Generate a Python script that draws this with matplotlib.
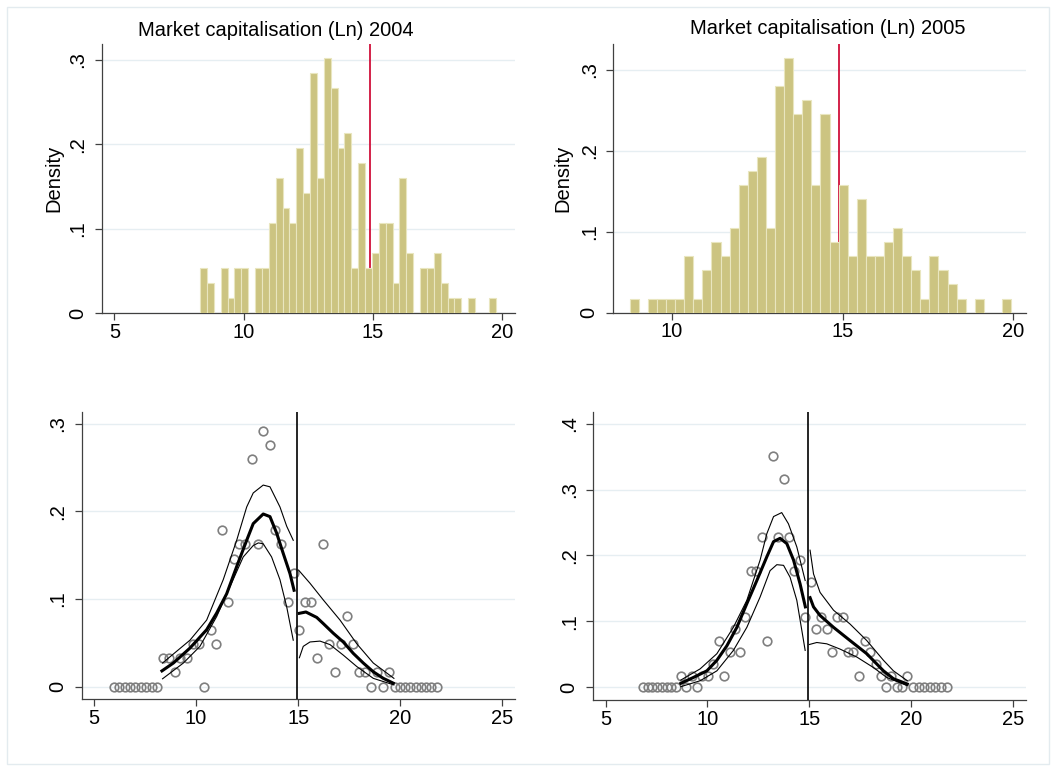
import numpy as np
import matplotlib
matplotlib.use("Agg")
import matplotlib.pyplot as plt
from matplotlib.patches import Rectangle

plt.rcParams['font.family'] = ['Liberation Sans', 'DejaVu Sans']

# ---------------- data ----------------
# Top-left histogram (2004): bin grid and counts per bin
hist04_start = 8.317
hist04_width = 0.266
hist04_counts = [3, 2, 0, 3, 1, 3, 3, 0, 3, 3, 6, 9, 7, 6, 11, 8, 16, 9, 17, 15,
                 11, 12, 3, 10, 3, 4, 6, 6, 2, 9, 4, 0, 3, 3, 4, 2, 1, 1, 0, 1,
                 0, 0, 1]
# Top-right histogram (2005)
hist05_start = 8.771
hist05_width = 0.2658
hist05_counts = [1, 0, 1, 1, 1, 1, 4, 1, 3, 5, 4, 6, 9, 10, 11, 6, 16, 18, 14, 15,
                 9, 14, 5, 9, 4, 8, 4, 4, 5, 6, 4, 3, 1, 4, 3, 2, 1, 0, 1, 0,
                 0, 1]
cutoff_top = 14.9
cutoff_bottom = 14.93

# Bottom-left (2004) McCrary density test: bin circles
bl_x = [5.98, 6.24, 6.51, 6.77, 7.03, 7.30, 7.56, 7.82, 8.09,
        8.36, 8.66, 8.95, 9.21, 9.54, 9.83, 10.13, 10.39, 10.71, 10.98,
        11.27, 11.56, 11.86, 12.12, 12.41, 12.74, 13.03, 13.29, 13.62,
        13.88, 14.18, 14.50, 14.80,
        15.06, 15.35, 15.65, 15.94, 16.23, 16.53, 16.82, 17.08, 17.38,
        17.70, 18.00, 18.29, 18.57, 18.84, 19.14, 19.43,
        19.72, 19.98, 20.24, 20.49, 20.75, 21.01, 21.27, 21.52, 21.78]
bl_y = [0, 0, 0, 0, 0, 0, 0, 0, 0,
        0.0323, 0.0323, 0.0162, 0.0323, 0.0323, 0.0485, 0.0485, 0, 0.0646, 0.0485,
        0.1785, 0.0970, 0.1458, 0.1624, 0.1624, 0.2593, 0.1624, 0.2920, 0.2760,
        0.1785, 0.1624, 0.0970, 0.1300,
        0.0646, 0.0970, 0.0970, 0.0323, 0.1624, 0.0485, 0.0162, 0.0485, 0.0808,
        0.0485, 0.0162, 0.0162, 0, 0.0162, 0, 0.0162,
        0, 0, 0, 0, 0, 0, 0, 0, 0]
# fitted density (left / right of cutoff) and confidence bands
bl_fit_l_x = [8.33, 8.89, 9.70, 10.52, 11.01, 11.50, 11.99, 12.48, 12.80, 13.29,
              13.62, 13.95, 14.27, 14.60, 14.80]
bl_fit_l_y = [0.018, 0.027, 0.044, 0.065, 0.084, 0.106, 0.137, 0.167, 0.186, 0.197,
              0.194, 0.175, 0.152, 0.129, 0.110]
bl_hi_l_x = [8.36, 9.70, 10.52, 11.33, 11.99, 12.48, 12.80, 13.29, 13.62, 14.11, 14.44, 14.76]
bl_hi_l_y = [0.027, 0.053, 0.076, 0.122, 0.167, 0.205, 0.221, 0.230, 0.228, 0.205, 0.183, 0.167]
bl_lo_l_x = [8.36, 9.38, 10.19, 11.01, 11.66, 12.31, 12.80, 13.05, 13.29, 13.70, 14.11, 14.44, 14.76]
bl_lo_l_y = [0.009, 0.027, 0.046, 0.080, 0.114, 0.148, 0.161, 0.164, 0.163, 0.148, 0.122, 0.091, 0.053]
bl_fit_r_x = [15.06, 15.38, 15.91, 16.23, 16.72, 17.21, 17.70, 18.19, 18.68, 19.17, 19.66]
bl_fit_r_y = [0.0837, 0.0852, 0.079, 0.072, 0.061, 0.051, 0.038, 0.027, 0.017, 0.0095, 0.004]
bl_hi_r_x = [15.02, 15.58, 16.23, 17.05, 17.87, 18.68, 19.69]
bl_hi_r_y = [0.133, 0.118, 0.099, 0.076, 0.049, 0.027, 0.0095]
bl_lo_r_x = [15.06, 15.25, 15.58, 16.07, 16.56, 17.21, 17.87, 18.68, 19.69]
bl_lo_r_y = [0.033, 0.046, 0.051, 0.052, 0.048, 0.036, 0.023, 0.0095, 0.002]

# Bottom-right (2005)
br_x = [6.83, 7.06, 7.30, 7.53, 7.76, 7.99, 8.23, 8.46,
        8.69, 8.95, 9.22, 9.48, 9.74, 10.03, 10.29, 10.56, 10.82, 11.11,
        11.37, 11.60, 11.86, 12.12, 12.39, 12.65, 12.94, 13.20, 13.46,
        13.73, 13.99, 14.25, 14.54, 14.80,
        15.07, 15.33, 15.59, 15.85, 16.11, 16.37, 16.67, 16.90, 17.16,
        17.45, 17.71, 17.97, 18.24, 18.50, 18.76, 19.02, 19.28, 19.54, 19.80,
        20.07, 20.35, 20.62, 20.90, 21.18, 21.45, 21.73]
br_y = [0, 0, 0, 0, 0, 0, 0, 0,
        0.0177, 0, 0.0177, 0, 0.0177, 0.0177, 0.0355, 0.0710, 0.0177, 0.0532,
        0.0885, 0.0532, 0.1062, 0.1760, 0.1760, 0.2280, 0.0710, 0.3510, 0.2280,
        0.3160, 0.2280, 0.1760, 0.1930, 0.1062,
        0.1590, 0.0885, 0.1062, 0.0885, 0.0532, 0.1062, 0.1062, 0.0532, 0.0532,
        0.0177, 0.0710, 0.0532, 0.0355, 0.0177, 0, 0.0177, 0, 0, 0.0177,
        0, 0, 0, 0, 0, 0, 0]
br_fit_l_x = [8.69, 9.31, 9.97, 10.46, 10.95, 11.44, 11.93, 12.42, 12.91, 13.24,
              13.56, 13.89, 14.22, 14.54, 14.80]
br_fit_l_y = [0.006, 0.015, 0.025, 0.041, 0.063, 0.091, 0.127, 0.162, 0.198, 0.221,
              0.226, 0.218, 0.193, 0.157, 0.122]
br_hi_l_x = [8.69, 9.64, 10.46, 11.27, 11.93, 12.58, 12.91, 13.24, 13.64, 13.97, 14.38, 14.79]
br_hi_l_y = [0.011, 0.028, 0.051, 0.091, 0.132, 0.193, 0.233, 0.259, 0.265, 0.248, 0.213, 0.162]
br_lo_l_x = [8.69, 9.64, 10.46, 11.27, 11.93, 12.58, 13.07, 13.40, 13.73, 14.05, 14.38, 14.79]
br_lo_l_y = [0.001, 0.010, 0.025, 0.056, 0.091, 0.137, 0.177, 0.186, 0.185, 0.167, 0.132, 0.056]
br_fit_r_x = [15.03, 15.20, 15.52, 16.18, 16.99, 17.81, 18.63, 19.12, 19.80]
br_fit_r_y = [0.136, 0.122, 0.109, 0.091, 0.071, 0.051, 0.025, 0.013, 0.005]
br_hi_r_x = [15.03, 15.20, 15.52, 16.18, 16.99, 17.81, 18.63, 19.12, 19.80]
br_hi_r_y = [0.208, 0.172, 0.144, 0.117, 0.096, 0.071, 0.041, 0.025, 0.010]
br_lo_r_x = [15.00, 15.36, 15.85, 16.50, 17.32, 18.14, 18.79, 19.80]
br_lo_r_y = [0.065, 0.068, 0.066, 0.058, 0.046, 0.030, 0.015, 0.0025]

titles = ["Market capitalisation (Ln) 2004", "Market capitalisation (Ln) 2005"]
top_left_xticks = [5, 10, 15, 20]
top_right_xticks = [10, 15, 20]
bottom_xticks = [5, 10, 15, 20, 25]
yticks_3 = [0, 0.1, 0.2, 0.3]
yticks_4 = [0, 0.1, 0.2, 0.3, 0.4]

# ---------------- styling ----------------
W, H = 1056, 771
fig = plt.figure(figsize=(W / 100, H / 100), dpi=100)
fig.patch.set_facecolor('white')
fig.patches.append(Rectangle((7 / W, 7 / H), (W - 14) / W, (H - 14) / H,
                             transform=fig.transFigure, fill=False,
                             edgecolor='#e3ebef', lw=1.0))

SPINE = '#404040'
GRID = '#e6eef2'
BAR = '#ccc481'
BAREDGE = '#e9e6bf'
RED = '#d0103a'
FS = 14.5


def px_axes(l, t, r, b):
    return fig.add_axes([l / W, 1 - b / H, (r - l) / W, (b - t) / H])


def style(ax, xticks, yticks):
    for s in ['top', 'right']:
        ax.spines[s].set_visible(False)
    for s in ['left', 'bottom']:
        ax.spines[s].set_color(SPINE)
        ax.spines[s].set_linewidth(0.9)
    ax.set_xticks(xticks)
    ax.set_xticklabels([str(v) for v in xticks])
    ax.set_yticks(yticks)
    ax.set_yticklabels(['0' if v == 0 else ('%.1f' % v).lstrip('0') for v in yticks])
    ax.tick_params(axis='both', direction='out', length=5, width=0.9, color=SPINE,
                   labelsize=FS, labelcolor='black')
    ax.tick_params(axis='y', pad=5.5)
    ax.tick_params(axis='x', pad=2)
    for lab in ax.get_yticklabels():
        lab.set_rotation(90)
        lab.set_va('center')
    ax.grid(axis='y', color=GRID, lw=1.0, zorder=0)
    ax.set_axisbelow(True)


def hist_panel(ax, start, width, counts, xticks, xlim, ylim):
    edges = [start + width * k for k in range(len(counts) + 1)]
    centers = [start + width * (k + 0.5) for k in range(len(counts))]
    ax.hist(centers, bins=edges, weights=counts, density=True,
            facecolor=BAR, edgecolor=BAREDGE, linewidth=0.8, zorder=3)
    ax.axvline(cutoff_top, color=RED, lw=1.3, zorder=2)
    ax.set_xlim(*xlim)
    ax.set_ylim(*ylim)
    style(ax, xticks, yticks_3)
    ax.set_ylabel('Density', fontsize=FS)


def mccrary_panel(ax, px, py, fl, hl, ll, fr, hr, lr, yticks, ylim):
    ax.plot(px, py, 'o', mfc='none', mec='#7f7f7f', mew=1.2, ms=6.2, zorder=3)
    for (xs, ys) in (hl, ll, hr, lr):
        ax.plot(xs, ys, color='black', lw=0.8, zorder=4)
    for (xs, ys) in (fl, fr):
        ax.plot(xs, ys, color='black', lw=2.2, zorder=5)
    ax.axvline(cutoff_bottom, color='black', lw=1.2, zorder=6)
    ax.set_xlim(4.4, 25.62)
    ax.set_ylim(*ylim)
    style(ax, bottom_xticks, yticks)


ax1 = px_axes(101.7, 44.3, 515, 313.3)
hist_panel(ax1, hist04_start, hist04_width, hist04_counts, top_left_xticks,
           (4.51, 20.5), (0, 0.3186))
ax1.yaxis.set_label_coords(-0.092, 0.5)

ax2 = px_axes(613.3, 44.3, 1026, 312.7)
hist_panel(ax2, hist05_start, hist05_width, hist05_counts, top_right_xticks,
           (8.29, 20.37), (0, 0.3317))
ax2.yaxis.set_label_coords(-0.098, 0.5)

fig.text(275.5 / W, 1 - 31 / H, titles[0], fontsize=14.5, ha='center', va='center')
fig.text(827.5 / W, 1 - 28 / H, titles[1], fontsize=14.5, ha='center', va='center')

ax3 = px_axes(81.7, 411.7, 515, 699.3)
mccrary_panel(ax3, bl_x, bl_y,
              (bl_fit_l_x, bl_fit_l_y), (bl_hi_l_x, bl_hi_l_y), (bl_lo_l_x, bl_lo_l_y),
              (bl_fit_r_x, bl_fit_r_y), (bl_hi_r_x, bl_hi_r_y), (bl_lo_r_x, bl_lo_r_y),
              yticks_3, (-0.0144, 0.3137))

ax4 = px_axes(593.3, 411.7, 1026, 700)
mccrary_panel(ax4, br_x, br_y,
              (br_fit_l_x, br_fit_l_y), (br_hi_l_x, br_hi_l_y), (br_lo_l_x, br_lo_l_y),
              (br_fit_r_x, br_fit_r_y), (br_hi_r_x, br_hi_r_y), (br_lo_r_x, br_lo_r_y),
              yticks_4, (-0.0192, 0.418))

fig.savefig('out.png', dpi=100)
